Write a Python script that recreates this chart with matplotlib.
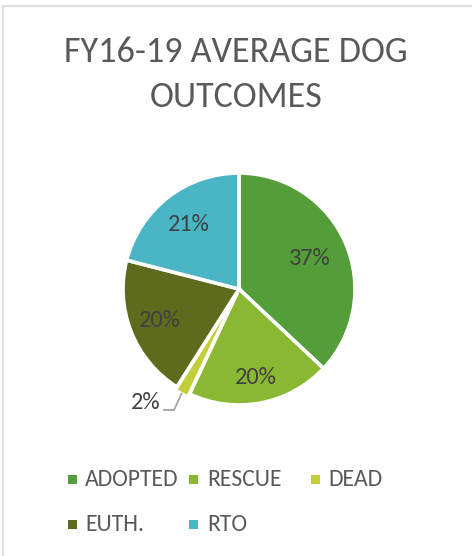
import matplotlib
matplotlib.use("Agg")
import matplotlib.pyplot as plt
from matplotlib.patches import Rectangle
from matplotlib.lines import Line2D
import numpy as np

# Outcome shares (percent)
categories = ["ADOPTED", "RESCUE", "DEAD", "EUTH.", "RTO"]
shares = [37, 20, 2, 20, 21]
colors = ["#549E39", "#8AB833", "#C0CF3A", "#5E6B1D", "#4AB5C4"]
title_lines = ["FY16-19 AVERAGE DOG", "OUTCOMES"]

FONT = ["Carlito", "Lato", "DejaVu Sans"]
plt.rcParams["font.family"] = FONT

W, H = 472, 556
fig = plt.figure(figsize=(W / 100, H / 100), dpi=100)
fig.patch.set_facecolor("white")

# chart frame (top and left edges visible)
fig.add_artist(Line2D([2.5 / W, 2.5 / W], [0, 1 - 6 / H], color="#D9D9D9", lw=1.2))
fig.add_artist(Line2D([2.5 / W, 1], [1 - 6 / H, 1 - 6 / H], color="#D9D9D9", lw=1.2))

for ty, line in zip([52, 97], title_lines):
    fig.text(0.5, 1 - ty / H, line, ha="center", va="center",
             fontsize=26, color="#595959")

# pie axes: center (239, 289) px, radius 116 px
R = 116
cx, cy = 239, 289
span = 1.3
side = 2 * span * R
ax = fig.add_axes([(cx - side / 2) / W, (H - cy - side / 2) / H, side / W, side / H])

explode = [0, 0, 0.03, 0, 0]
wedges, _ = ax.pie(shares, colors=colors, startangle=90, counterclock=False,
                   explode=explode, radius=1.0,
                   wedgeprops=dict(edgecolor="white", linewidth=2.6))
ax.set_xlim(-span, span)
ax.set_ylim(-span, span)
ax.set_aspect("equal")
ax.axis("off")

label_r = [0.66, 0.78, None, 0.73, 0.70]
for w, v, r in zip(wedges, shares, label_r):
    mid = np.deg2rad((w.theta1 + w.theta2) / 2)
    if r is None:
        # small slice: label outside with leader line
        x0, y0 = 1.02 * np.cos(mid), 1.02 * np.sin(mid)
        ax.plot([x0, -0.56, -0.655], [y0, -1.043, -1.043], color="#A6A6A6", lw=1.3,
                solid_capstyle="butt")
        ax.text(-0.68, -0.975, f"{v}%", ha="right", va="center", fontsize=17.5,
                color="#404040")
    else:
        ax.text(r * np.cos(mid), r * np.sin(mid), f"{v}%", ha="center", va="center",
                fontsize=17.5, color="#404040")

# legend, laid out row by row
leg_pos = [(68, 85, 479), (189, 207, 479), (311, 328, 479), (68, 85, 524.5), (189, 207, 524.5)]
for (mx, tx, ty), name, c in zip(leg_pos, categories, colors):
    fig.add_artist(Rectangle((mx / W, (H - ty - 4.5) / H), 9 / W, 9 / H,
                             transform=fig.transFigure, facecolor=c, edgecolor="none"))
    fig.text(tx / W, 1 - ty / H, name, ha="left", va="center", fontsize=17,
             color="#595959")

fig.savefig("out.png", dpi=100, facecolor="white")
